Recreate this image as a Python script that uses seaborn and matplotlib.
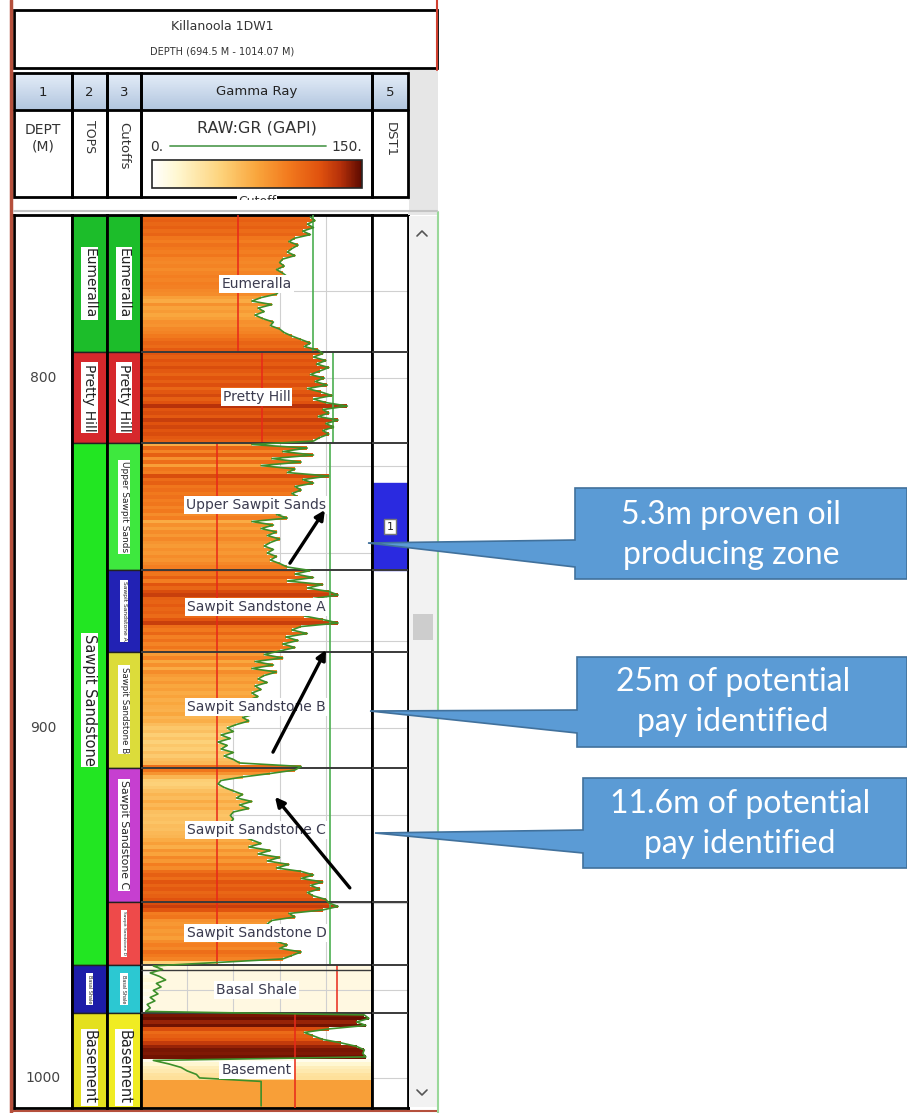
import numpy as np
import pandas as pd
import seaborn as sns
import matplotlib.pyplot as plt
from matplotlib.colors import LinearSegmentedColormap, Normalize
from matplotlib.cm import ScalarMappable
from matplotlib.patches import Rectangle, Polygon

sns.set_style('white')
plt.rcParams['font.family'] = ['DejaVu Sans']

well_title = 'Killanoola 1DW1'
depth_title = 'DEPTH (694.5 M - 1014.07 M)'
top_depth, base_depth = 753.4, 1008.6
depth_ticks = [800, 900, 1000]

gr_start = 754  # first GR sample (m), one sample per metre
gr_eumeralla = [110, 113, 108, 112, 105, 110, 100, 96, 102, 98, 95, 100, 92, 90, 93, 88, 92, 95, 92, 96,
                94, 90, 88, 78, 72, 85, 76, 80, 74, 79, 86, 84, 90, 93, 98, 104, 110, 106, 115]
gr_pretty_hill = [118, 112, 120, 114, 122, 116, 110, 119, 113, 121, 108, 117, 124, 112, 120, 134, 118, 122,
                  115, 128, 120, 125, 118, 122, 116, 112]
gr_upper_sawpit = [72, 108, 92, 112, 85, 104, 78, 100, 95, 122, 105, 112, 100, 104, 98, 102, 96, 100, 92, 98,
                   88, 95, 72, 86, 78, 88, 82, 90, 84, 80, 86, 82, 88, 84, 90, 95, 110]
gr_sawpit_a = [100, 112, 95, 118, 108, 122, 128, 112, 110, 115, 108, 112, 106, 118, 128, 104, 98, 108, 94, 102,
               92, 100, 90]
gr_sawpit_b = [80, 92, 74, 86, 72, 88, 80, 76, 82, 74, 78, 72, 76, 70, 74, 70, 68, 74, 66, 70, 62, 56, 60, 52,
               58, 50, 56, 52, 60, 54, 60, 64, 104]
gr_sawpit_c = [100, 84, 66, 52, 50, 54, 60, 66, 62, 72, 64, 70, 60, 58, 60, 58, 62, 60, 64, 66, 72, 78, 70, 84,
               76, 90, 82, 96, 88, 104, 112, 104, 118, 110, 116, 108, 112, 120]
gr_sawpit_d = [122, 128, 118, 96, 100, 85, 82, 86, 80, 84, 78, 88, 95, 90, 104, 98, 92, 50]
gr_basal_shale = [8, 14, 6, 12, 16, 10, 13, 8, 11, 6, 9, 4, 6, 3]
gr_basement = [145, 148, 140, 146, 122, 106, 112, 118, 130, 140, 145, 144, 146, 8, 18, 26, 30, 36, 38,
               78, 78, 78, 78, 78, 78, 78, 78]
gr_values = (gr_eumeralla + gr_pretty_hill + gr_upper_sawpit + gr_sawpit_a + gr_sawpit_b
             + gr_sawpit_c + gr_sawpit_d + gr_basal_shale + gr_basement)
full_fill_from = 995  # below this depth the shading runs across the whole track

tops_names = ['Eumeralla', 'Pretty Hill', 'Sawpit Sandstone', 'Basal Shale', 'Basement']
tops_top = [753.4, 792.6, 818.6, 967.7, 981.4]
tops_base = [792.6, 818.6, 967.7, 981.4, 1008.6]
tops_colors = ['#1cbd2a', '#d6282c', '#22e622', '#1c1ca8', '#e4e01e']
tops_fs = [10, 10, 10.5, 3.5, 10.5]
tops_label_depth = [773.0, 805.6, 892.0, 974.6, 997.0]

zone_names = ['Eumeralla', 'Pretty Hill', 'Upper Sawpit Sands', 'Sawpit Sandstone A', 'Sawpit Sandstone B',
              'Sawpit Sandstone C', 'Sawpit Sandstone D', 'Basal Shale', 'Basement']
zone_top = [753.4, 792.6, 818.6, 854.9, 878.3, 911.4, 949.7, 967.7, 981.4]
zone_base = [792.6, 818.6, 854.9, 878.3, 911.4, 949.7, 967.7, 981.4, 1008.6]
zone_colors = ['#1cbd2a', '#d6282c', '#3ee83e', '#2222b4', '#dcdc3a', '#c63fd0', '#ee4a4a', '#2cc8d2', '#f0ec22']
zone_fs = [10, 10, 6.5, 4.3, 6.2, 7.8, 3.2, 3.5, 10.5]
zone_cut_label_depth = [773.0, 805.6, 836.8, 866.6, 894.8, 930.6, 958.7, 974.6, 997.0]
zone_track_label_depth = [773.1, 805.4, 836.3, 865.4, 894.0, 929.1, 958.6, 974.9, 997.7]
zone_red_cut = [63, 78.5, 49.3, 49.3, 49.3, 49.3, 49.3, 127, 100]
zone_green_cut = [112, 124.5, 123, 123, 123, 123, 123, None, None]

dst_top, dst_base, dst_label = 830.0, 854.9, '1'

callout_texts = ['5.3m proven oil\nproducing zone', '25m of potential\npay identified',
                 '11.6m of potential\npay identified']

# ---- figure ----
W, H = 907, 1113
fig = plt.figure(figsize=(W / 100, H / 100), dpi=100, facecolor='white')


def px_box(x0, y0, x1, y1):
    return [x0 / W, 1 - y1 / H, (x1 - x0) / W, (y1 - y0) / H]


gr_cmap = LinearSegmentedColormap.from_list('gr', [(0, '#ffffff'), (0.12, '#fff7d0'), (0.33, '#fdd27a'),
                                                   (0.5, '#f9a53c'), (0.65, '#f27a1e'), (0.8, '#e0520e'),
                                                   (0.9, '#b5300a'), (1.0, '#5c0a00')])
norm = Normalize(0, 150)

col_edges = [14, 72, 107, 141, 372, 408]
axes = []
for i in range(5):
    ax = fig.add_axes(px_box(col_edges[i], 215, col_edges[i + 1], 1108))
    axes.append(ax)
ax_dep, ax_tops, ax_cut, ax_gr, ax_dst = axes

# depth column
for d in depth_ticks:
    ax_dep.text(0.5, d, str(d), ha='center', va='center', fontsize=10, color='#444444')

# tops + cutoffs columns
for name, t, b, c, fs, ld in zip(tops_names, tops_top, tops_base, tops_colors, tops_fs, tops_label_depth):
    ax_tops.axhspan(t, b, color=c, ec='#222222', lw=1)
    ax_tops.text(0.5, ld, name, rotation=-90, ha='center', va='center', fontsize=fs, color='#222222',
                 bbox=dict(fc='white', ec='none', pad=1))
for name, t, b, c, fs, ld in zip(zone_names, zone_top, zone_base, zone_colors, zone_fs, zone_cut_label_depth):
    ax_cut.axhspan(t, b, color=c, ec='#222222', lw=1)
    ax_cut.text(0.5, ld, name, rotation=-90, ha='center', va='center', fontsize=fs, color='#222222',
                bbox=dict(fc='white', ec='none', pad=1))

# gamma ray track
df = pd.DataFrame({'GR': gr_values, 'DEPTH': gr_start + np.arange(len(gr_values))})
bar_w = np.where(df['DEPTH'] >= full_fill_from, 150, df['GR'])
ax_gr.axhspan(zone_top[7], zone_base[7], color='#fff8e1', zorder=0.5)
for g in [30, 60, 90, 120]:
    ax_gr.axvline(g, color='#d0d0d0', lw=0.8, zorder=1)
for d in [775, 800, 825, 850, 875, 900, 925, 950, 975, 1000]:
    ax_gr.axhline(d, color='#d0d0d0', lw=0.8, zorder=1)
    ax_dst.axhline(d, color='#d0d0d0', lw=0.8, zorder=1)
ax_gr.barh(df['DEPTH'], bar_w, height=1.0, color=gr_cmap(norm(df['GR'])), linewidth=0, zorder=2)
for t, b, r, g in zip(zone_top, zone_base, zone_red_cut, zone_green_cut):
    ax_gr.vlines(r, t, b, color='#e8281a', lw=1.1, zorder=4)
    if g is not None:
        ax_gr.vlines(g, t, b, color='#4caf50', lw=1.2, zorder=4)
for b in zone_top[1:]:
    ax_gr.axhline(b, color='#3a3a3a', lw=1.4, zorder=4)
    ax_dst.axhline(b, color='#3a3a3a', lw=1.4, zorder=4)
ax_gr.axhline(zone_top[7] + 1.4, color='#3a3a3a', lw=1.0, zorder=4)
sns.lineplot(data=df, x='GR', y='DEPTH', orient='y', sort=False, estimator=None,
             color='#3d8f2a', lw=1.2, ax=ax_gr, zorder=5)
for name, ld in zip(zone_names, zone_track_label_depth):
    ax_gr.text(75, ld, name, ha='center', va='center', fontsize=10, color='#3b3b4f', zorder=6,
               bbox=dict(fc='white', ec='none', pad=1.5))
arrows = [((96.7, 852.9), (119.4, 837.7)), ((85.7, 906.9), (120.1, 877.7)), ((135.6, 945.7), (87.0, 919.7))]
for tail, head in arrows:
    ax_gr.annotate('', xy=head, xytext=tail, zorder=7, annotation_clip=False,
                   arrowprops=dict(arrowstyle='-|>', color='black', lw=2.4, mutation_scale=14,
                                   shrinkA=0, shrinkB=0))

# DST column
ax_dst.axhspan(dst_top, dst_base, color='#2a2ae0', zorder=2)
ax_dst.text(0.5, (dst_top + dst_base) / 2, dst_label, ha='center', va='center', fontsize=8, zorder=5,
            bbox=dict(fc='white', ec='#777777', pad=1.5))

for ax in axes:
    ax.set_ylim(base_depth, top_depth)
    ax.set_xlim(0, 150 if ax is ax_gr else 1)
    ax.set_xticks([])
    ax.set_yticks([])
    ax.set_xlabel('')
    ax.set_ylabel('')
    for s in ax.spines.values():
        s.set_visible(True)
        s.set_color('black')
        s.set_linewidth(2)

# ---- header and decorations (pixel overlay) ----
ov = fig.add_axes([0, 0, 1, 1], zorder=10)
ov.axis('off')
hdr_cmap = LinearSegmentedColormap.from_list('hdr', ['#e4edf8', '#b2c6df'])
ov.imshow(np.linspace(0, 1, 40).reshape(-1, 1), extent=(14, 408, 110, 73), aspect='auto', cmap=hdr_cmap)
ov.add_patch(Rectangle((408, 70), 30, 145, fc='#e6e6e6', ec='none'))
ov.add_patch(Rectangle((14, 10), 423, 58, fill=False, ec='black', lw=2))
ov.text(222, 27, well_title, ha='center', va='center', fontsize=9, color='#333333')
ov.text(222, 51, depth_title, ha='center', va='center', fontsize=7, color='#333333')
for x0, x1 in zip(col_edges[:-1], col_edges[1:]):
    ov.add_patch(Rectangle((x0, 73), x1 - x0, 124, fill=False, ec='black', lw=2))
ov.plot([14, 408], [110, 110], color='black', lw=2)
for x, lab in zip([43, 89.5, 124, 256.5, 390], ['1', '2', '3', 'Gamma Ray', '5']):
    ov.text(x, 92, lab, ha='center', va='center', fontsize=9.5, color='#222222')
ov.text(43, 138, 'DEPT\n(M)', ha='center', va='center', fontsize=10, color='#333333', linespacing=1.2)
ov.text(89.5, 137, 'TOPS', rotation=-90, ha='center', va='center', fontsize=9, color='#333333')
ov.text(124, 146, 'Cutoffs', rotation=-90, ha='center', va='center', fontsize=9.5, color='#333333')
ov.text(390, 140, 'DST1', rotation=-90, ha='center', va='center', fontsize=9.5, color='#333333')
ov.text(257, 128, 'RAW:GR (GAPI)', ha='center', va='center', fontsize=11.5, color='#333333')
ov.text(150, 147, '0.', ha='left', va='center', fontsize=10, color='#333333')
ov.text(362, 147, '150.', ha='right', va='center', fontsize=10, color='#333333')
ov.plot([170, 326], [146, 146], color='#5aa05a', lw=1.3)
ov.text(257, 195, 'Cutoff', ha='center', va='top', fontsize=9, color='#333333', zorder=3,
        bbox=dict(fc='white', ec='none', pad=1))
ov.add_patch(Rectangle((14, 199.5), 395, 11, fc='white', ec='none', zorder=4))
ov.plot([14, 437], [211, 211], color='#c4c4c4', lw=1.5, zorder=5)

# scrollbar and window edges
ov.add_patch(Rectangle((409, 216), 28, 891, fc='#f2f2f2', ec='none'))
ov.add_patch(Rectangle((413, 614), 20, 26, fc='#cdcdcd', ec='none'))
ov.plot([417, 422, 427], [236, 231, 236], color='#555555', lw=1.2)
ov.plot([417, 422, 427], [1090, 1095, 1090], color='#555555', lw=1.2)
ov.plot([11, 11], [0, H], color='#b5503c', lw=2.5)
ov.plot([11, 437], [1111, 1111], color='#b5503c', lw=1.5)
ov.plot([437, 437], [0, 70], color='#d04030', lw=1.5)
ov.plot([438, 438], [212, H], color='#9ad89a', lw=1.5)

# callouts
callout_shapes = [[(907, 488), (575, 488), (575, 540), (368, 543), (575, 567), (575, 579), (907, 579)],
                  [(907, 657), (577, 657), (577, 710), (370, 711), (577, 733), (577, 747), (907, 747)],
                  [(907, 778), (583, 778), (583, 830), (375, 833), (583, 853), (583, 868), (907, 868)]]
callout_text_xy = [(731, 535), (733, 702), (740, 824)]
for shape, txt, (tx, ty) in zip(callout_shapes, callout_texts, callout_text_xy):
    ov.add_patch(Polygon(shape, closed=True, fc='#5b9bd5', ec='#41719c', lw=1.2, zorder=6))
    ov.text(tx, ty, txt, ha='center', va='center', fontsize=23, color='white', family=['Lato', 'DejaVu Sans'],
            linespacing=1.42, zorder=7)

ov.set_xlim(0, W)
ov.set_ylim(H, 0)

cax = fig.add_axes(px_box(152, 160, 362, 188), zorder=11)
cb = fig.colorbar(ScalarMappable(norm=norm, cmap=gr_cmap), cax=cax, orientation='horizontal')
cb.set_ticks([])
cb.outline.set_linewidth(1.2)

fig.savefig('out.png', dpi=100)
